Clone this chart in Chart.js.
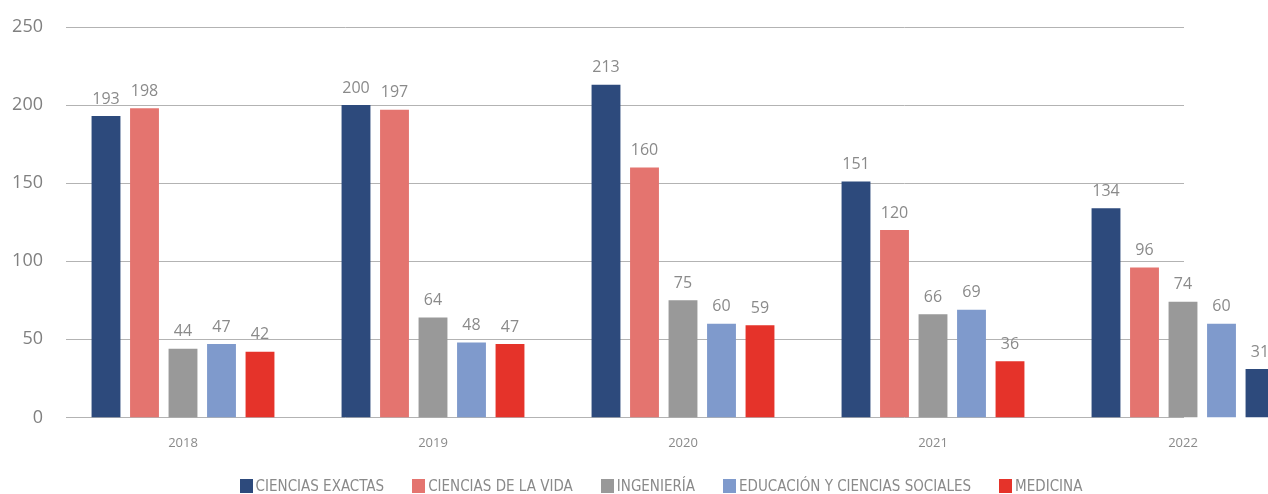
<!DOCTYPE html>
<html>
<head>
<meta charset="utf-8">
<script src="https://cdn.jsdelivr.net/npm/chart.js@4"></script>
<style>
    body { margin: 0; overflow: hidden; background: #fff; }
    #wrap { position: relative; width: 1322px; height: 494px; }
    #legend {
        position: absolute; left: 0; top: 477px; width: 1322px;
        display: flex; justify-content: center;
        font-family: "Liberation Sans Narrow", "DejaVu Sans Condensed", sans-serif;
        font-size: 15px; color: #8a8a8a; line-height: 18px;
    }
    #legend span.item { display: inline-flex; align-items: center; margin: 0 14px; }
    #legend span.box { width: 13px; height: 14px; margin-right: 3px; display: inline-block; }
</style>
</head>
<body>
<div id="wrap">
    <canvas id="chBar" width="1322" height="494"></canvas>
    <div id="legend"></div>
</div>
<script>
var years = ['2018', '2019', '2020', '2021', '2022'];
var cienciasExactas = [193, 200, 213, 151, 134];
var cienciasVida = [198, 197, 160, 120, 96];
var ingenieria = [44, 64, 75, 66, 74];
var educacion = [47, 48, 60, 69, 60];
var medicina = [42, 47, 59, 36, 31];
var yTicks = [0, 50, 100, 150, 200, 250];

document.addEventListener("DOMContentLoaded", function () {
    var colors = ['#2D4A7C', '#E4746F', '#999999', '#7F9ACC', '#E5332A'];
    var textGray = '#8a8a8a';

    // grid lines only run from the axis to the last year label
    var gridLines = {
        id: 'gridLines',
        beforeDatasetsDraw: function (chart) {
            var ctx = chart.ctx;
            var y = chart.scales.y;
            var x = chart.scales.x;
            var left = chart.chartArea.left + 8;
            var right = x.getPixelForValue(years.length - 1) + 1;
            ctx.save();
            ctx.strokeStyle = '#b3b3b3';
            ctx.lineWidth = 1;
            yTicks.forEach(function (v) {
                var py = Math.round(y.getPixelForValue(v)) + 0.5;
                ctx.beginPath();
                ctx.moveTo(left, py);
                ctx.lineTo(right, py);
                ctx.stroke();
            });
            ctx.restore();
        }
    };

    // value labels above the bars
    var valueLabels = {
        id: 'valueLabels',
        afterDatasetsDraw: function (chart) {
            var ctx = chart.ctx;
            ctx.save();
            ctx.font = '16px "Open Sans", sans-serif';
            ctx.fillStyle = textGray;
            ctx.textAlign = 'center';
            ctx.textBaseline = 'bottom';
            chart.data.datasets.forEach(function (ds, i) {
                chart.getDatasetMeta(i).data.forEach(function (bar, j) {
                    ctx.fillText(ds.data[j], bar.x, bar.y - 9);
                });
            });
            ctx.restore();
        }
    };

    var chBar = document.getElementById("chBar").getContext('2d');
    var barChart = new Chart(chBar, {
        type: 'bar',
        data: {
            labels: years,
            datasets: [
                { label: 'CIENCIAS EXACTAS', data: cienciasExactas, backgroundColor: colors[0] },
                { label: 'CIENCIAS DE LA VIDA', data: cienciasVida, backgroundColor: colors[1] },
                { label: 'INGENIERÍA', data: ingenieria, backgroundColor: colors[2] },
                { label: 'EDUCACIÓN Y CIENCIAS SOCIALES', data: educacion, backgroundColor: colors[3] },
                // last bar shows in dark blue in the source
                { label: 'MEDICINA', data: medicina, backgroundColor: [colors[4], colors[4], colors[4], colors[4], colors[0]] }
            ]
        },
        options: {
            responsive: false,
            animation: false,
            categoryPercentage: 0.77,
            barPercentage: 0.75,
            layout: { padding: { left: 0, right: 14, top: 27, bottom: 33 } },
            scales: {
                x: {
                    grid: { display: false },
                    border: { display: false },
                    ticks: { color: textGray, font: { family: 'Open Sans', size: 13 }, padding: 10 }
                },
                y: {
                    min: 0,
                    max: 250,
                    afterFit: function (scale) { scale.width = 58; },
                    afterBuildTicks: function (scale) {
                        scale.ticks = yTicks.map(function (v) { return { value: v }; });
                    },
                    grid: { display: false, drawTicks: false },
                    border: { display: false },
                    ticks: { color: '#808080', font: { family: 'Open Sans', size: 18 }, padding: 15 }
                }
            },
            plugins: {
                legend: { display: false },
                tooltip: { enabled: false }
            }
        },
        plugins: [gridLines, valueLabels]
    });

    // html legend built from the datasets
    var legend = document.getElementById('legend');
    barChart.data.datasets.forEach(function (ds, i) {
        var item = document.createElement('span');
        item.className = 'item';
        var box = document.createElement('span');
        box.className = 'box';
        box.style.background = colors[i];
        item.appendChild(box);
        item.appendChild(document.createTextNode(ds.label));
        legend.appendChild(item);
    });
});
</script>
</body>
</html>
